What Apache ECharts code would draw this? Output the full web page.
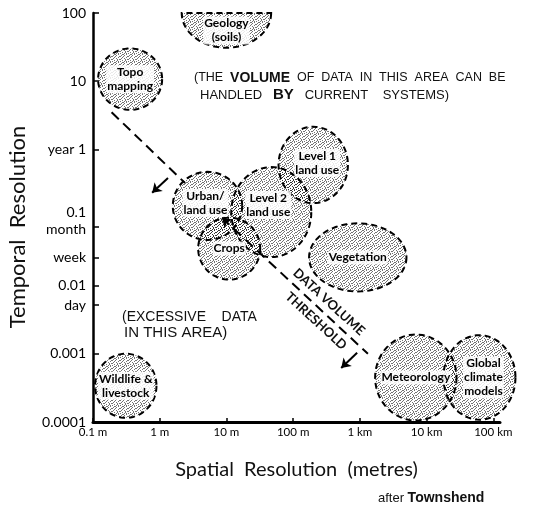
<!DOCTYPE html>
<html>
<head>
<meta charset="utf-8">
<script src="https://cdn.jsdelivr.net/npm/echarts@6/dist/echarts.min.js"></script>
<style>
  html, body { margin: 0; padding: 0; background: #fff; }
  #chart { width: 537px; height: 518px; }
</style>
</head>
<body>
<div id="chart"></div>
<script>
// ---- data ----
var regions = ['Geology\n(soils)', 'Topo\nmapping', 'Urban/\nland use', 'Level 2\nland use', 'Level 1\nland use',
  'Crops', 'Vegetation', 'Wildlife &\nlivestock', 'Meteorology', 'Global\nclimate\nmodels'];
// centre of each region (metres, years)
var spatialCentre = [10, 0.36, 5.2, 47, 200, 11, 930, 0.31, 6900, 62000];
var temporalCentre = [100, 10.7, 0.148, 0.12, 0.59, 0.035, 0.026, 0.00034, 0.00045, 0.00045];
// half extent of each region, in decades
var spatialSpread = [0.67, 0.48, 0.52, 0.6, 0.52, 0.465, 0.73, 0.46, 0.61, 0.54];
var temporalSpread = [0.51, 0.45, 0.5, 0.66, 0.56, 0.455, 0.5, 0.47, 0.63, 0.62];
var halfShape = [1, 0, 0, 0, 0, 0, 0, 0, 0, 0];

// data volume threshold line (two pieces) and the side arrows
var thresholdA = [[0.19, 3.5], [2.4, 0.32]];
var thresholdB = [[8.6, 0.099], [1320, 0.001]];
var arrowUpper = [[1.33, 0.38], [0.77, 0.23]];
var arrowLower = [[910, 0.00104], [525, 0.00062]];

var xTickValues = [0.1, 1, 10, 100, 1000, 10000, 100000];
var xTickLabels = ['0.1 m', '1 m', '10 m', '100 m', '1 km', '10 km', '100 km'];
var yLabelValues = [100, 10, 1, 0.1, 0.073, 0.0256, 0.01, 0.0052, 0.001, 0.0001];
var yLabelTexts = ['100', '10', 'year 1', '0.1', 'month', 'week', '0.01', 'day', '0.001', '0.0001'];
var yTickValues = [100, 10, 1, 0.073, 0.0256, 0.01, 0.0052, 0.001];

// stipple fill (fixed dot layout in an 8x8 tile)
var pat = document.createElement('canvas');
pat.width = 8; pat.height = 8;
var pctx = pat.getContext('2d');
pctx.fillStyle = 'rgba(0,0,0,0.55)';
[[0, 0], [3, 0], [6, 1], [1, 2], [4, 2], [7, 3], [2, 4], [5, 4], [0, 5], [3, 6], [6, 6], [1, 7], [4, 7],
 [7, 0], [2, 1], [5, 3], [0, 3], [6, 5], [2, 6], [4, 5]].forEach(function (p) { pctx.fillRect(p[0], p[1], 1, 1); });

var labelOffset = { 'Level 2\nland use': [-3, -7], 'Level 1\nland use': [4, -2], 'Global\nclimate\nmodels': [4, 0], 'Urban/\nland use': [-2, -3] };

var regionData = regions.map(function (r, i) {
  return { name: r, value: [spatialCentre[i], temporalCentre[i], spatialSpread[i], temporalSpread[i], halfShape[i]] };
});

var chartDom = document.getElementById('chart');
var myChart = echarts.init(chartDom, null, { renderer: 'canvas' });
var labelFont = 'Lato, "DejaVu Sans", sans-serif';
var noteFont = '"Liberation Sans Narrow", "Liberation Sans", sans-serif';

var option = {
  animation: false,
  grid: { left: 93, right: 37, top: 13, bottom: 96 },
  xAxis: {
    type: 'log', min: 0.1, max: 126000,
    name: 'Spatial  Resolution  (metres)', nameLocation: 'middle', nameGap: 38,
    nameTextStyle: { fontFamily: labelFont, fontSize: 20, color: '#111' },
    axisLine: { lineStyle: { color: '#000', width: 3 } },
    axisTick: { inside: true, length: 4, customValues: xTickValues, lineStyle: { color: '#000', width: 1.5 } },
    axisLabel: {
      customValues: xTickValues, margin: 4,
      fontFamily: labelFont, fontSize: 11.5, color: '#000',
      formatter: function (v) {
        for (var i = 0; i < xTickValues.length; i++) if (Math.abs(Math.log10(v) - Math.log10(xTickValues[i])) < 1e-6) return xTickLabels[i];
        return '';
      }
    },
    splitLine: { show: false }
  },
  yAxis: {
    type: 'log', min: 0.0001, max: 100,
    axisLine: { lineStyle: { color: '#000', width: 2.5 } },
    axisTick: { inside: true, length: 6, customValues: yTickValues, lineStyle: { color: '#000', width: 1.5 } },
    axisLabel: {
      customValues: yLabelValues, margin: 7,
      fontFamily: labelFont, fontSize: 14, color: '#000',
      formatter: function (v) {
        for (var i = 0; i < yLabelValues.length; i++) {
          if (Math.abs(Math.log10(v) - Math.log10(yLabelValues[i])) < 1e-6) {
            if (yLabelTexts[i] === '0.1') return '{up|0.1}';
            if (yLabelTexts[i] === 'month') return '{dn|month}';
            return yLabelTexts[i];
          }
        }
        return '';
      },
      rich: {
        up: { fontFamily: labelFont, fontSize: 14, color: '#000', padding: [0, 0, 10, 0] },
        dn: { fontFamily: labelFont, fontSize: 14, color: '#000', padding: [5, 0, 0, 0] }
      }
    },
    splitLine: { show: false }
  },
  series: [
    {
      type: 'custom',
      clip: false,
      data: regionData,
      renderItem: function (params, api) {
        var cx = Math.log10(api.value(0)), cy = Math.log10(api.value(1));
        var rx = api.value(2), ry = api.value(3), half = api.value(4);
        var n = 80, a1 = half ? Math.PI : Math.PI * 2;
        var pts = [];
        for (var k = 0; k <= n; k++) {
          var a = a1 * k / n;
          pts.push(api.coord([Math.pow(10, cx + rx * Math.cos(a)), Math.pow(10, cy - ry * Math.sin(a))]));
        }
        var name = regions[params.dataIndex];
        return {
          type: 'polygon',
          shape: { points: pts },
          style: { fill: { image: pat, repeat: 'repeat' }, stroke: '#000', lineWidth: 2, lineDash: [6, 4] },
          textContent: {
            style: {
              text: name, fontFamily: labelFont, fontSize: 12, fontWeight: 'bold', fill: '#000',
              align: 'center', verticalAlign: 'middle', lineHeight: 14,
              backgroundColor: 'rgba(255,255,255,0.85)', padding: [0, 1], borderRadius: 3
            }
          },
          textConfig: { position: 'inside', offset: labelOffset[name] || [0, 0] }
        };
      }
    },
    {
      type: 'lines', coordinateSystem: 'cartesian2d', silent: true,
      symbol: ['none', 'none'],
      lineStyle: { color: '#000', width: 2, type: [10, 6], opacity: 1 },
      data: [{ coords: thresholdA }]
    },
    {
      type: 'lines', coordinateSystem: 'cartesian2d', silent: true,
      symbol: ['arrow', 'none'], symbolSize: 9,
      lineStyle: { color: '#000', width: 2, type: [10, 6], opacity: 1 },
      data: [{ coords: thresholdB }]
    },
    {
      type: 'lines', coordinateSystem: 'cartesian2d', silent: true,
      symbol: ['none', 'arrow'], symbolSize: 9,
      lineStyle: { color: '#000', width: 2, opacity: 1 },
      data: [{ coords: arrowUpper }, { coords: arrowLower }]
    }
  ],
  graphic: [
    {
      type: 'text', x: 18, y: 227, rotation: Math.PI / 2,
      style: { text: 'Temporal  Resolution', font: '22px ' + labelFont, fill: '#111', align: 'center', verticalAlign: 'middle' }
    },
    {
      type: 'text', x: 194, y: 78,
      style: {
        text: '{s|(THE  }{b|VOLUME}{s|  OF  DATA  IN  THIS  AREA  CAN  BE}', verticalAlign: 'middle',
        rich: {
          s: { fontFamily: noteFont, fontSize: 12.5, fill: '#111' },
          b: { fontFamily: noteFont, fontSize: 14, fontWeight: 'bold', fill: '#111' }
        }
      }
    },
    {
      type: 'text', x: 200, y: 95,
      style: {
        text: '{s|HANDLED   }{b|BY}{s|   CURRENT    SYSTEMS)}', verticalAlign: 'middle',
        rich: {
          s: { fontFamily: noteFont, fontSize: 13, fill: '#111' },
          b: { fontFamily: noteFont, fontSize: 15, fontWeight: 'bold', fill: '#111' }
        }
      }
    },
    {
      type: 'text', x: 122, y: 317,
      style: { text: '(EXCESSIVE    DATA', font: '14px ' + noteFont, fill: '#111', verticalAlign: 'middle' }
    },
    {
      type: 'text', x: 124, y: 333,
      style: { text: 'IN THIS AREA)', font: '15px ' + noteFont, fill: '#111', verticalAlign: 'middle' }
    },
    {
      type: 'text', x: 329, y: 302, rotation: -42.5 * Math.PI / 180,
      style: { text: 'DATA VOLUME', font: 'bold 13px ' + labelFont, fill: '#111', align: 'center', verticalAlign: 'middle' }
    },
    {
      type: 'text', x: 316, y: 321, rotation: -42.5 * Math.PI / 180,
      style: { text: 'THRESHOLD', font: 'bold 13px ' + labelFont, fill: '#111', align: 'center', verticalAlign: 'middle' }
    },
    {
      type: 'text', x: 378, y: 498,
      style: {
        text: '{a|after }{b|Townshend}', verticalAlign: 'middle',
        rich: {
          a: { fontFamily: noteFont, fontSize: 13, fill: '#111' },
          b: { fontFamily: noteFont, fontSize: 14, fontWeight: 'bold', fill: '#111' }
        }
      }
    }
  ]
};

option && myChart.setOption(option);
</script>
</body>
</html>
